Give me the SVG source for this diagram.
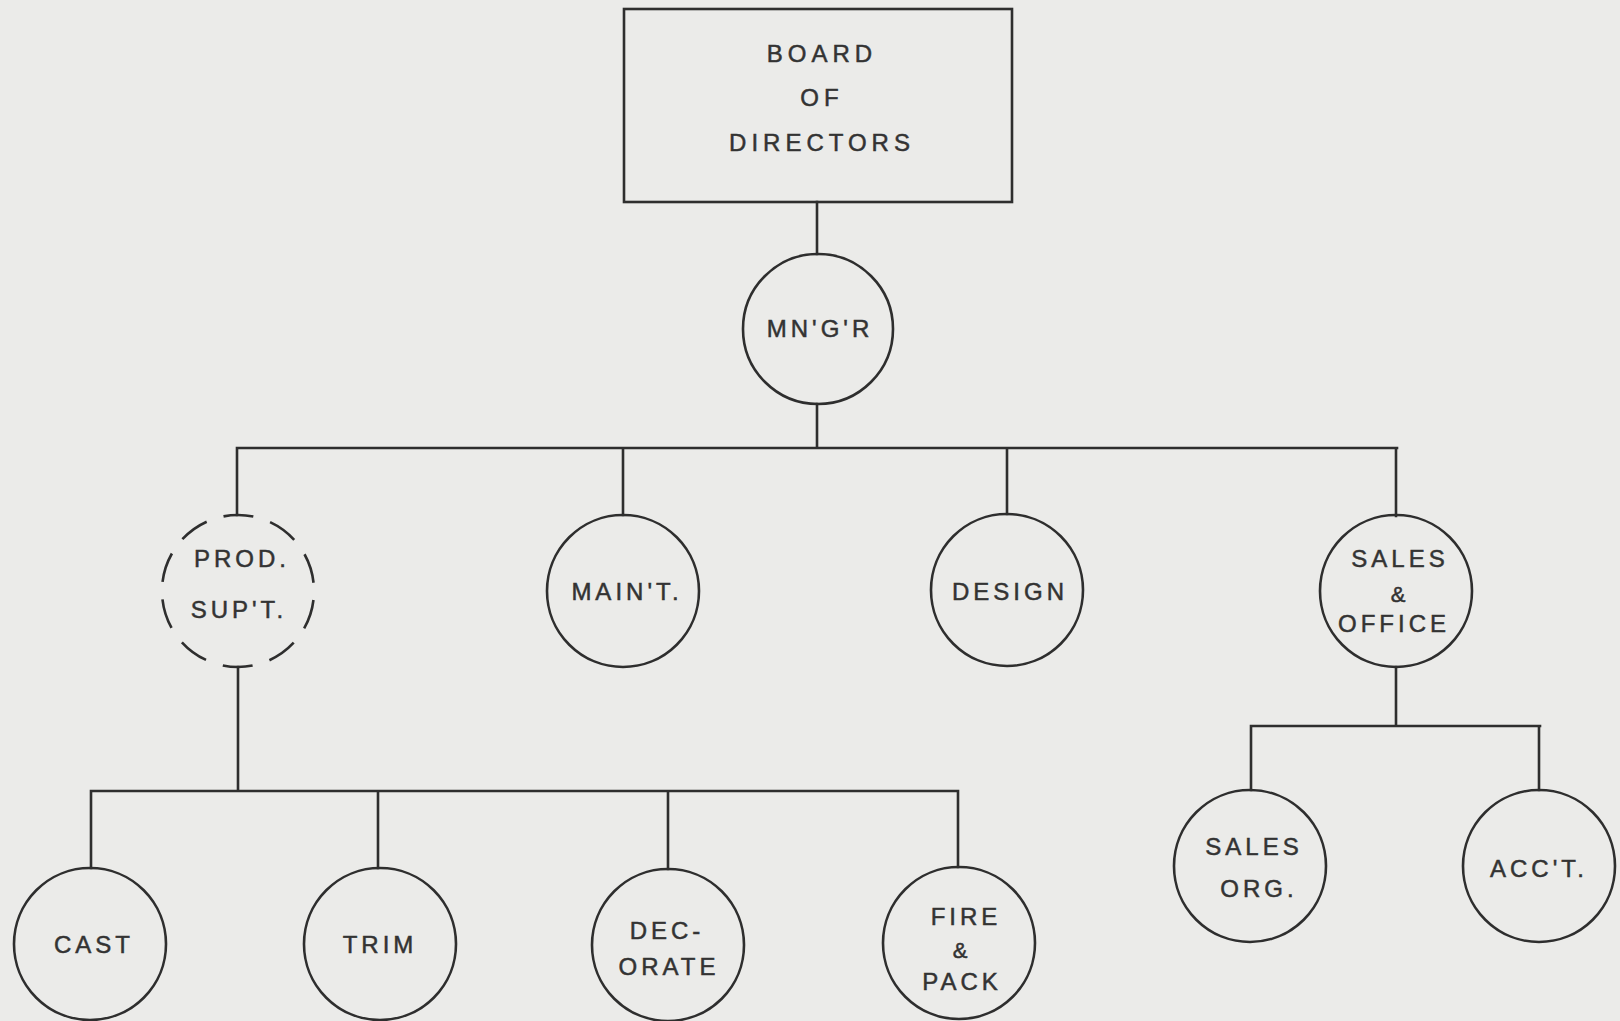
<svg xmlns="http://www.w3.org/2000/svg" width="1620" height="1021" viewBox="0 0 1620 1021">
<style>
.bg{fill:#ebebe9}
.n{fill:none;stroke:#2e2e2e;stroke-width:2.6}
.d{stroke-dasharray:30 17.7;stroke-dashoffset:38.6}
.c{fill:none;stroke:#2e2e2e;stroke-width:2.6;stroke-linecap:square}
text{font-family:"Liberation Sans",Arial,sans-serif;font-size:24px;fill:#333;stroke:#333;stroke-width:0.5;text-anchor:middle;letter-spacing:4px}
.b{letter-spacing:5px}
.amp{font-size:22px;letter-spacing:0}
</style>
<rect class="bg" x="0" y="0" width="1620" height="1021"/>
<g id="connectors">
<path class="c" d="M817 202V254M817 404V448M237 448H1397M237 448V515M623 448V515M1007 448V514M1396 448V516"/>
<path class="c" d="M238 667V791M91 791H958M91 791V868M378 791V868M668 791V869M958 791V867"/>
<path class="c" d="M1396 667V726M1251 726H1540M1251 726V790M1539 726V790"/>
</g>
<g id="board">
<rect class="n" x="624" y="9" width="388" height="193"/>
<text class="b" x="822" y="62">BOARD</text>
<text class="b" x="822" y="106">OF</text>
<text class="b" x="822" y="151">DIRECTORS</text>
</g>
<g id="mngr">
<circle class="n" cx="818" cy="329" r="75"/>
<text x="820" y="337">MN'G'R</text>
</g>
<g id="prod">
<circle class="n d" cx="238" cy="591" r="76"/>
<text x="242" y="567">PROD.</text>
<text x="239" y="618">SUP'T.</text>
</g>
<g id="maint">
<circle class="n" cx="623" cy="591" r="76"/>
<text x="627" y="600">MAIN'T.</text>
</g>
<g id="design">
<circle class="n" cx="1007" cy="590" r="76"/>
<text x="1010" y="600">DESIGN</text>
</g>
<g id="sales-office">
<circle class="n" cx="1396" cy="591" r="76"/>
<text x="1400" y="567">SALES</text>
<text class="amp" x="1398" y="602">&amp;</text>
<text x="1394" y="632">OFFICE</text>
</g>
<g id="cast">
<circle class="n" cx="90" cy="944" r="76"/>
<text x="94" y="953">CAST</text>
</g>
<g id="trim">
<circle class="n" cx="380" cy="944" r="76"/>
<text x="380" y="953">TRIM</text>
</g>
<g id="decorate">
<circle class="n" cx="668" cy="945" r="76"/>
<text x="667" y="939">DEC-</text>
<text x="669" y="975">ORATE</text>
</g>
<g id="fire-pack">
<circle class="n" cx="959" cy="943" r="76"/>
<text x="966" y="925">FIRE</text>
<text class="amp" x="960" y="958">&amp;</text>
<text x="962" y="990">PACK</text>
</g>
<g id="sales-org">
<circle class="n" cx="1250" cy="866" r="76"/>
<text x="1254" y="855">SALES</text>
<text x="1259" y="897">ORG.</text>
</g>
<g id="acct">
<circle class="n" cx="1539" cy="866" r="76"/>
<text x="1539" y="877">ACC'T.</text>
</g>
</svg>
